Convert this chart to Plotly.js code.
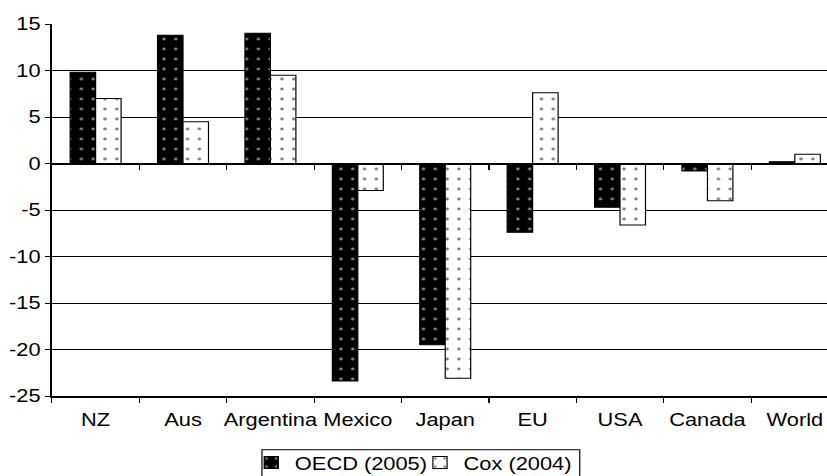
<!DOCTYPE html>
<html>
<head>
<meta charset="utf-8">
<script src="https://cdn.plot.ly/plotly-3.0.1.min.js"></script>
<style>
  html, body { margin: 0; padding: 0; background: #fff; overflow: hidden; }
  #wrap { width: 827px; height: 476px; overflow: hidden; }
  /* chart is laid out narrower and stretched horizontally to the full width */
  #chart { width: 701px; height: 490px; transform: scaleX(1.17974); transform-origin: 0 0; }
</style>
</head>
<body>
<div id="wrap"><div id="chart"></div></div>
<script>
// Per-region values (two sources)
const categories = ['NZ', 'Aus', 'Argentina', 'Mexico', 'Japan', 'EU', 'USA', 'Canada', 'World'];
const oecd2005 = [9.8, 13.8, 14.0, -23.4, -19.5, -7.4, -4.7, -0.8, 0.2];
const cox2004 = [7.0, 4.5, 9.5, -2.9, -23.1, 7.6, -6.6, -4.0, 1.0];
const seriesNames = ['OECD (2005)', 'Cox (2004)'];
const yTickValues = [-25, -20, -15, -10, -5, 0, 5, 10, 15];

const FONT = 'Liberation Sans, Arial, sans-serif';
const FS = 18.5;

const traces = [
  {
    type: 'bar', name: seriesNames[0], x: categories, y: oecd2005, legend: 'legend',
    marker: {
      color: '#000',
      line: { color: '#000', width: 1 },
      pattern: { shape: '.', bgcolor: '#000', fgcolor: '#fff', size: 10, solidity: 0.07, fillmode: 'overlay' }
    }
  },
  {
    type: 'bar', name: seriesNames[1], x: categories, y: cox2004, legend: 'legend2',
    marker: {
      color: '#fff',
      line: { color: '#000', width: 1 },
      pattern: { shape: '.', bgcolor: '#fff', fgcolor: '#000', size: 10, solidity: 0.07, fillmode: 'overlay' }
    }
  },
  // carries the categories for the tick axis drawn along zero
  {
    type: 'scatter', mode: 'none', x: categories, y: categories.map(() => null),
    xaxis: 'x2', showlegend: false, hoverinfo: 'skip'
  }
];

const xRange = [-0.5, 8.368];

const legendBase = {
  orientation: 'h', xref: 'container', yref: 'container',
  xanchor: 'left', y: 0.0551, yanchor: 'middle',
  borderwidth: 0, bgcolor: 'rgba(0,0,0,0)',
  font: { family: FONT, size: FS, color: '#000' }
};

const layout = {
  width: 701, height: 490,
  margin: { l: 44, r: 0, t: 24, b: 94.4 },
  paper_bgcolor: '#fff', plot_bgcolor: '#fff',
  font: { family: FONT, size: FS, color: '#000' },
  barmode: 'group', bargap: 0.417, bargroupgap: 0,
  showlegend: true,
  legend: Object.assign({}, legendBase, { x: 0.2995 }),
  legend2: Object.assign({}, legendBase, { x: 0.5035 }),
  // frame around the two legend entries
  shapes: [{
    type: 'rect', xref: 'paper', yref: 'paper',
    x0: 0.271, x1: 0.681, y0: -0.1445, y1: -0.26,
    line: { color: '#000', width: 1 }, fillcolor: 'rgba(0,0,0,0)', layer: 'above'
  }],
  xaxis: {
    type: 'category', range: xRange, fixedrange: true,
    showline: true, linecolor: '#000', linewidth: 2,
    ticks: 'outside', tickson: 'boundaries', ticklen: 5, tickcolor: '#000', tickwidth: 1,
    tickangle: 0, ticklabelstandoff: 6,
    showgrid: false, zeroline: false,
    tickfont: { family: FONT, size: FS, color: '#000' }
  },
  xaxis2: {
    type: 'category', overlaying: 'x', anchor: 'free', position: 0.625, side: 'bottom',
    range: xRange, fixedrange: true,
    showline: true, linecolor: '#000', linewidth: 2,
    ticks: 'outside', tickson: 'boundaries', ticklen: 5, tickcolor: '#000', tickwidth: 1,
    showticklabels: false, showgrid: false, zeroline: false
  },
  yaxis: {
    range: [-25, 15], fixedrange: true,
    tickvals: yTickValues, ticktext: yTickValues.map(String),
    showline: true, linecolor: '#000', linewidth: 1.7,
    ticks: 'outside', ticklen: 4.2, tickcolor: '#000', tickwidth: 1,
    showgrid: true, gridcolor: '#000', gridwidth: 1,
    zeroline: false,
    tickfont: { family: FONT, size: FS, color: '#000' }
  }
};

Plotly.newPlot('chart', traces, layout, { staticPlot: true, displayModeBar: false });
</script>
</body>
</html>
